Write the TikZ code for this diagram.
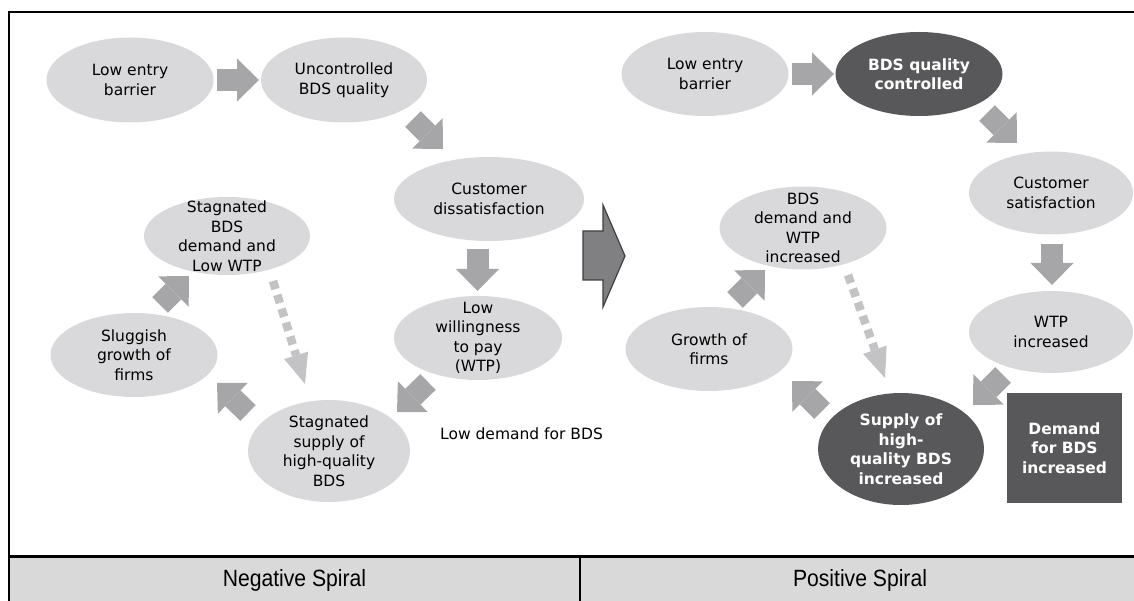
\documentclass[tikz,border=0pt]{standalone}
\usepackage{fontspec}
\setmainfont{DejaVu Sans}
\newfontfamily\footerfont[FakeStretch=0.9]{Liberation Sans}
\usetikzlibrary{arrows.meta,shapes.geometric}

\definecolor{bubblefill}{RGB}{217,217,219}
\definecolor{darkfill}{RGB}{88,88,90}
\definecolor{arrowfill}{RGB}{166,166,168}
\definecolor{dotfill}{RGB}{195,195,197}
\definecolor{bigfill}{RGB}{128,128,131}
\definecolor{bandfill}{RGB}{217,217,217}

\tikzset{
  bubble/.style={ellipse, fill=bubblefill, inner sep=0pt},
  darkbubble/.style={bubble, fill=darkfill},
  btext/.style={align=center, inner sep=0pt, text=black,
    font=\fontsize{15.5}{19.5}\selectfont},
  dtext/.style={btext, text=white, font=\fontsize{15.5}{19.5}\selectfont\bfseries},
  blockarrow/.style={draw=arrowfill, line width=22pt,
    -{Triangle[length=22pt,width=43pt,line width=0pt]}},
  dotarrow/.style={draw=dotfill, line width=8.5pt, dash pattern=on 8.5pt off 6pt,
    -{Triangle[length=30pt,width=25pt,line width=0pt]}},
  bigarrow/.style={fill=bigfill, draw=black!75, line width=1.2pt, line join=miter},
  frame/.style={draw=black, line width=2.4pt},
  footer/.style={inner sep=0pt, font=\footerfont\fontsize{23.5}{26}\selectfont}
}

\begin{document}
\begin{tikzpicture}[x=1pt,y=-1pt]
\useasboundingbox (0,0) rectangle (1134,601);

% footer band and frame
\fill[bandfill] (8.8,556.3) rectangle (1134,601);
\draw[frame] (1134,12.2) -- (8.8,12.2) -- (8.8,601);
\draw[frame] (8.8,556.3) -- (1134,556.3);
\draw[frame] (580,556.3) -- (580,601);
\node[footer] (neg) at (294.5,580) {Negative Spiral};
\node[footer] (pos) at (860,580) {Positive Spiral};

% ---- negative spiral ----
\node[bubble, minimum width=167pt, minimum height=85pt] (L1) at (130,80) {};
\node[btext] (L1t) at (L1) {Low entry\\barrier};
\node[bubble, minimum width=166pt, minimum height=85pt] (L2) at (344,80) {};
\node[btext] (L2t) at (L2) {Uncontrolled\\BDS quality};
\node[bubble, minimum width=190pt, minimum height=84pt] (L3) at (489,199) {};
\node[btext] (L3t) at (L3) {Customer\\dissatisfaction};
\node[bubble, minimum width=168pt, minimum height=84pt] (L4) at (478,338) {};
\node[btext] (L4t) at (L4) {Low\\willingness\\to pay\\(WTP)};
\node[bubble, minimum width=162pt, minimum height=102pt] (L5) at (329,451) {};
\node[btext] (L5t) at (L5) {Stagnated\\supply of\\high-quality\\BDS};
\node[bubble, minimum width=167pt, minimum height=84pt] (L6) at (134,355) {};
\node[btext] (L6t) at (L6) {Sluggish\\growth of\\firms};
\node[bubble, minimum width=166pt, minimum height=78pt] (L7) at (227,236) {};
\node[btext] (L7t) at (L7) {Stagnated\\BDS\\demand and\\Low WTP};
\node[btext, anchor=west] (lowdemand) at (440,434) {Low demand for BDS};

\coordinate (a1s) at (217,80);    \coordinate (a1e) at (259,80);
\coordinate (a2s) at (413,119);   \coordinate (a2e) at (443,149);
\coordinate (a3s) at (477.5,249); \coordinate (a3e) at (477.5,291);
\coordinate (a4s) at (428,382);   \coordinate (a4e) at (397,412);
\coordinate (a5s) at (248,413);   \coordinate (a5e) at (217,383);
\coordinate (a6s) at (160,305);   \coordinate (a6e) at (189,276);
\coordinate (d1s) at (273,281);   \coordinate (d1e) at (305,384);

\draw[blockarrow] (a1s) -- (a1e);
\draw[blockarrow] (a2s) -- (a2e);
\draw[blockarrow] (a3s) -- (a3e);
\draw[blockarrow] (a4s) -- (a4e);
\draw[blockarrow] (a5s) -- (a5e);
\draw[blockarrow] (a6s) -- (a6e);
\draw[dotarrow] (d1s) -- (d1e);

% transition arrow
\draw[bigarrow] (583,231) -- (603,231) -- (603,205) -- (625,256)
  -- (603,307) -- (603,280) -- (583,280) -- cycle;

% ---- positive spiral ----
\node[bubble, minimum width=167pt, minimum height=84pt] (R1) at (705,74) {};
\node[btext] (R1t) at (R1) {Low entry\\barrier};
\node[darkbubble, minimum width=167pt, minimum height=84pt] (R2) at (919,74) {};
\node[dtext] (R2t) at (R2) {BDS quality\\controlled};
\node[bubble, minimum width=164pt, minimum height=83pt] (R3) at (1051,193) {};
\node[btext] (R3t) at (R3) {Customer\\satisfaction};
\node[bubble, minimum width=164pt, minimum height=82pt] (R4) at (1051,332) {};
\node[btext] (R4t) at (R4) {WTP\\increased};
\node[darkbubble, minimum width=166pt, minimum height=112pt] (R5) at (901,449) {};
\node[dtext] (R5t) at (R5) {Supply of\\high-\\quality BDS\\increased};
\node[rectangle, fill=darkfill, minimum width=115pt, minimum height=110pt,
  inner sep=0pt] (R6) at (1064.5,448) {};
\node[dtext] (R6t) at (R6) {Demand\\for BDS\\increased};
\node[bubble, minimum width=167pt, minimum height=84pt] (R7) at (709,349) {};
\node[btext] (R7t) at (R7) {Growth of\\firms};
\node[bubble, minimum width=167pt, minimum height=83pt] (R8) at (803,228) {};
\node[btext] (R8t) at (R8) {BDS\\demand and\\WTP\\increased};

\coordinate (a7s) at (792,74);    \coordinate (a7e) at (834,74);
\coordinate (a8s) at (987,113);   \coordinate (a8e) at (1017,143);
\coordinate (a9s) at (1052,244);  \coordinate (a9e) at (1052,285);
\coordinate (a10s) at (1003,375); \coordinate (a10e) at (973,405);
\coordinate (a11s) at (822,411);  \coordinate (a11e) at (792,381);
\coordinate (a12s) at (735,300);  \coordinate (a12e) at (765,270);
\coordinate (d2s) at (848,275);   \coordinate (d2e) at (885,378);

\draw[blockarrow] (a7s) -- (a7e);
\draw[blockarrow] (a8s) -- (a8e);
\draw[blockarrow] (a9s) -- (a9e);
\draw[blockarrow] (a10s) -- (a10e);
\draw[blockarrow] (a11s) -- (a11e);
\draw[blockarrow] (a12s) -- (a12e);
\draw[dotarrow] (d2s) -- (d2e);
\end{tikzpicture}
\end{document}
